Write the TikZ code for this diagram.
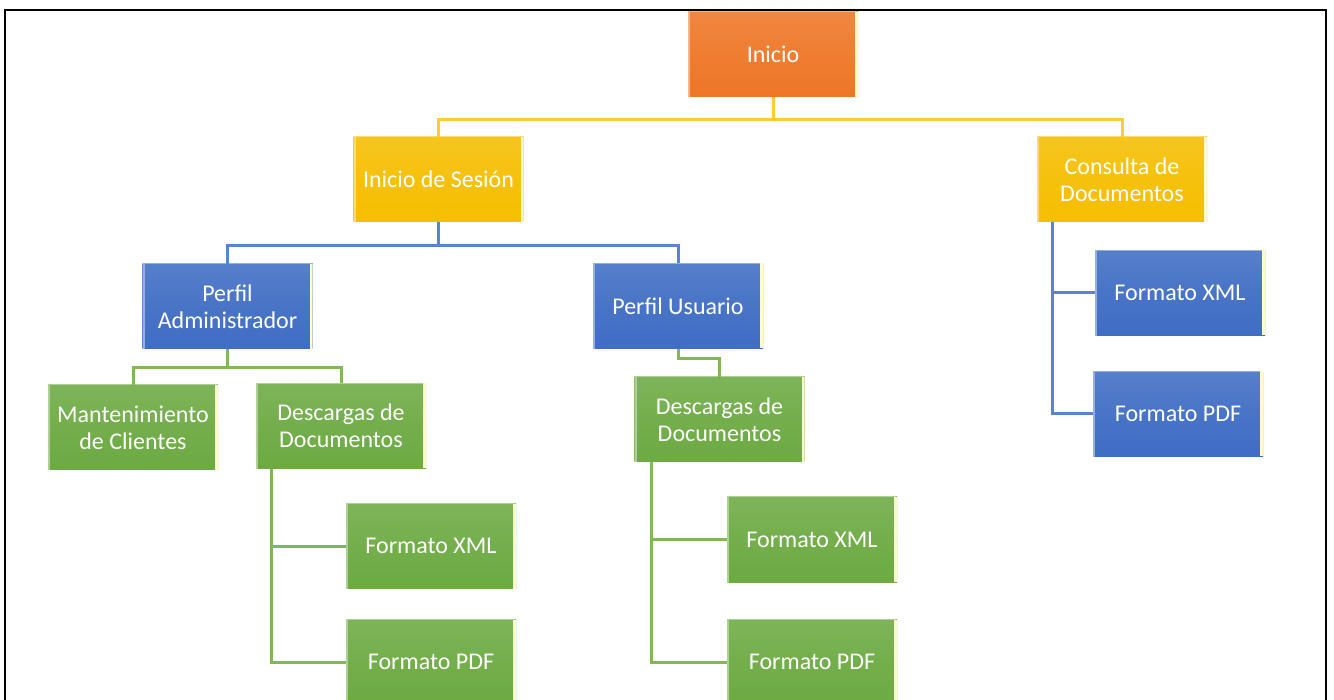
\documentclass[tikz,border=0pt]{standalone}
\usepackage{fontspec}
\setmainfont{Carlito}
\definecolor{cOr}{HTML}{EE7626}
\definecolor{cGo}{HTML}{F5BE00}
\definecolor{cBl}{HTML}{3F6DC4}
\definecolor{cGr}{HTML}{6CAA42}
\definecolor{lGo}{HTML}{FFCC33}
\definecolor{lBl}{HTML}{5B84CE}
\definecolor{lGr}{HTML}{7FB85A}
\tikzset{
  box/.style={rectangle, minimum width=170pt, minimum height=85pt, inner sep=0pt,
    text=white, align=center, font=\fontsize{24}{27}\selectfont,
    top color=#1!88!white, bottom color=#1, middle color=#1!95!white,
    path picture={
      \draw[#1!55!white, line width=2.5pt]
        ([shift={(1pt,-1pt)}]path picture bounding box.south west) --
        ([shift={(1pt,1pt)}]path picture bounding box.north west) --
        ([shift={(-1pt,1pt)}]path picture bounding box.north east);
      \draw[yellow!20!white, line width=3pt]
        ([shift={(-1.5pt,0pt)}]path picture bounding box.north east) --
        ([shift={(-1.5pt,0pt)}]path picture bounding box.south east);
    }},
  conn/.style={line width=3pt, #1},
  frame/.style={line width=2pt, black}
}
\begin{document}
\begin{tikzpicture}[x=1pt, y=-1pt]
\useasboundingbox (0,0) rectangle (1334,700);
\draw[frame] (5,712) -- (5,10) -- (1326,10) -- (1326,712);

\node[box=cOr] (ini) at (773,54.5) {Inicio};
\node[box=cGo] (ses) at (438.5,179.5) {Inicio de Sesión};
\node[box=cGo] (con) at (1122,179.5) {Consulta de\\Documentos};
\node[box=cBl] (pa) at (227.5,306.5) {Perfil\\Administrador};
\node[box=cBl] (pu) at (678,306) {Perfil Usuario};
\node[box=cGr] (man) at (133,427.5) {Mantenimiento\\de Clientes};
\node[box=cGr] (dA) at (341,426) {Descargas de\\Documentos};
\node[box=cGr] (dU) at (719.5,419.5) {Descargas de\\Documentos};
\node[box=cGr] (xA) at (431,546) {Formato XML};
\node[box=cGr] (pA) at (431,662) {Formato PDF};
\node[box=cGr] (xU) at (812,539.5) {Formato XML};
\node[box=cGr] (pU) at (812,662) {Formato PDF};
\node[box=cBl] (xC) at (1180,293) {Formato XML};
\node[box=cBl] (pC) at (1178,414) {Formato PDF};

\draw[conn=lGo] (ini.south) -- ++(0,22) -| (ses.north);
\draw[conn=lGo] (ini.south) -- ++(0,22) -| (con.north);
\draw[conn=lBl] (ses.south) -- ++(0,23) -| (pa.north);
\draw[conn=lBl] (ses.south) -- ++(0,23) -| (pu.north);
\draw[conn=lGr] (pa.south) -- ++(0,18) -| (man.north);
\draw[conn=lGr] (pa.south) -- ++(0,18) -| (dA.north);
\draw[conn=lGr] (pu.south) -- ++(0,10) -| (dU.north);
\draw[conn=lGr] ([xshift=16pt]dA.south west) |- (xA.west);
\draw[conn=lGr] ([xshift=16pt]dA.south west) |- (pA.west);
\draw[conn=lGr] ([xshift=17pt]dU.south west) |- (xU.west);
\draw[conn=lGr] ([xshift=17pt]dU.south west) |- (pU.west);
\draw[conn=lBl] ([xshift=16pt]con.south west) |- (xC.west);
\draw[conn=lBl] ([xshift=16pt]con.south west) |- (pC.west);
\end{tikzpicture}
\end{document}
